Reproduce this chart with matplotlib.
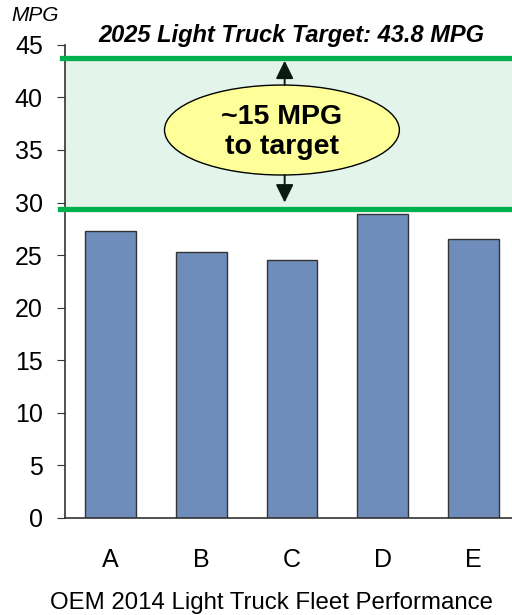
import matplotlib.pyplot as plt
from matplotlib.patches import Ellipse

# fleet data
oems = ["A", "B", "C", "D", "E"]
mpg_2014 = [27.3, 25.3, 24.5, 28.9, 26.5]
target_2025 = 43.8
fleet_line = 29.4
gap_label = "~15 MPG\nto target"

plt.rcParams['font.family'] = ['Liberation Sans', 'DejaVu Sans']

fig = plt.figure(figsize=(5.12, 6.15), dpi=100)
ax = fig.add_axes([0.127, 0.158, 0.873, 0.769])

x = list(range(len(oems)))

# shaded gap between fleet and target
ax.axhspan(fleet_line, target_2025, color="#e3f5ea", zorder=0)

ax.bar(x, mpg_2014, width=0.56, color="#6f8dba", edgecolor="#333333",
       linewidth=1.0, zorder=2)

# green reference lines
ax.axhline(target_2025, xmin=-0.006, xmax=1, color="#00b050", lw=3.8,
           clip_on=False, zorder=3)
ax.axhline(fleet_line, xmin=-0.012, xmax=1, color="#00b050", lw=3.8,
           clip_on=False, zorder=3)

# ellipse callout with arrows
cx, cy = 1.89, 36.9
ew, eh = 2.59, 8.56
ell = Ellipse((cx, cy), ew, eh, facecolor="#ffff99", edgecolor="black",
              lw=1.0, zorder=4)
ax.add_patch(ell)
ax.text(cx, cy - 0.2, gap_label, ha="center", va="center", fontsize=20.5,
        fontweight="bold", linespacing=1.2, zorder=5)
arrow = dict(arrowstyle="-|>,head_width=0.27,head_length=0.55",
             mutation_scale=20, color="#0a1a10", lw=1.4,
             shrinkA=0, shrinkB=0)
ax.annotate("", xy=(cx + 0.03, target_2025 - 0.3), xytext=(cx + 0.03, cy + eh / 2),
            arrowprops=arrow, zorder=5)
ax.annotate("", xy=(cx + 0.03, fleet_line + 0.6), xytext=(cx + 0.03, cy - eh / 2),
            arrowprops=arrow, zorder=5)

ax.text(1.99, 45.9, "2025 Light Truck Target: 43.8 MPG", ha="center",
        va="center", fontsize=17, fontweight="bold", style="italic",
        clip_on=False)

ax.set_ylim(0, 45)
ax.set_xlim(-0.502, 4.427)
ax.set_yticks(range(0, 46, 5))
ax.set_xticks(x)
ax.set_xticklabels(oems)
ax.tick_params(axis="y", labelsize=18, length=6, color="#333333", pad=10)
ax.tick_params(axis="x", labelsize=18, length=0, pad=22)

for side in ["top", "right"]:
    ax.spines[side].set_visible(False)
for side in ["left", "bottom"]:
    ax.spines[side].set_color("#333333")
    ax.spines[side].set_linewidth(1.2)

ax.set_xlabel("OEM 2014 Light Truck Fleet Performance", fontsize=17.3)
ax.xaxis.set_label_coords(0.461, -0.157)
fig.text(0.068, 0.975, "MPG", ha="center", va="center", fontsize=15,
         style="italic")

fig.savefig("out.png", dpi=100)
